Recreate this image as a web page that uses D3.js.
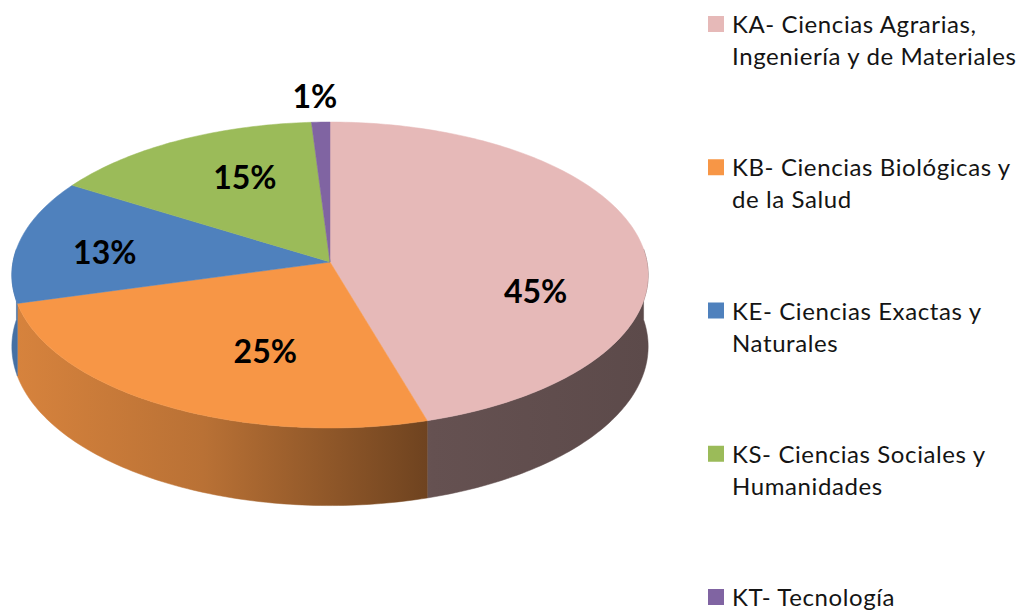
<!DOCTYPE html>
<meta charset="utf-8">
<script src="https://cdn.jsdelivr.net/npm/d3@7"></script>
<html>
<head>
<style>
  body { margin: 0; background: #fff; }
  svg { display: block; }
  .pct { font-family: Lato, "Open Sans", sans-serif; font-weight: bold; font-size: 32px; fill: #000; }
  .leg { font-family: Lato, "Open Sans", sans-serif; font-size: 24px; letter-spacing: 0.6px; fill: #141414; }
</style>
</head>
<body>
<div id="chart"></div>

<script>
// data
var codes   = ["KA", "KB", "KE", "KS", "KT"];
var values  = [45, 25, 13, 15, 1];
var labels  = ["45%", "25%", "13%", "15%", "1%"];
var legendLines = [
  ["KA- Ciencias Agrarias,", "Ingeniería y de Materiales"],
  ["KB-  Ciencias Biológicas y", "de la Salud"],
  ["KE- Ciencias Exactas y", "Naturales"],
  ["KS- Ciencias Sociales y", "Humanidades"],
  ["KT- Tecnología"]
];
var colors  = ["#e6b9b8", "#f79646", "#4f81bd", "#9bbb59", "#8064a2"];
// where excel put the % labels (angle in degrees clockwise from top, radius fraction)
var labelAngle  = [107, 199, 275, 334, 357.5];
var labelRadius = [0.667, 0.597, 0.717, 0.643, 1.2];

var width = 1029, height = 613;

// 3d look: tilted disc with a bit of perspective
var cx = 330, k = 317, a = 129.6, b = 262, c = -0.085, depth = 71;

function project(deg, r, dz) {
  var t = deg * Math.PI / 180;
  var h = r * Math.sin(t), v = -r * Math.cos(t);
  var w = 1 + c * v;
  return [cx + k * h / w, (a * v + b + dz) / w];
}

function arcPts(d0, d1, dz) {
  var n = Math.max(2, Math.ceil(Math.abs(d1 - d0)));
  return d3.range(n + 1).map(function(i) {
    return project(d0 + (d1 - d0) * i / n, 1, dz);
  });
}

var svg = d3.select("#chart").append("svg")
  .attr("width", width)
  .attr("height", height);

var defs = svg.append("defs");
colors.forEach(function(col, i) {
  var g = defs.append("linearGradient")
    .attr("id", "side" + i)
    .attr("gradientUnits", "userSpaceOnUse")
    .attr("x1", 13).attr("x2", 648).attr("y1", 0).attr("y2", 0);
  var base = d3.rgb(col);
  [[0, 0.87], [0.3, 0.75], [0.66, 0.44], [1, 0.4]].forEach(function(s) {
    g.append("stop")
      .attr("offset", s[0])
      .attr("stop-color", d3.rgb(base.r * s[1], base.g * s[1], base.b * s[1]));
  });
});

var pie = d3.pie().sort(null).value(function(d) { return d; });
var arcs = pie(values);
var toDeg = function(r) { return r * 180 / Math.PI; };

var line = d3.line();
// silhouette of the cylinder wall, ~95 and ~265 deg
var sil0 = toDeg(Math.acos(-c)), sil1 = 360 - sil0;

// outer walls (front half only)
var pie3d = svg.append("g");
arcs.forEach(function(s, i) {
  var d0 = Math.max(toDeg(s.startAngle), sil0);
  var d1 = Math.min(toDeg(s.endAngle), sil1);
  if (d1 <= d0) return;
  var pts = arcPts(d0, d1, 0).concat(arcPts(d1, d0, depth));
  pie3d.append("path")
    .attr("d", line(pts) + "Z")
    .attr("fill", "url(#side" + i + ")")
    .attr("stroke", "url(#side" + i + ")")
    .attr("stroke-width", 0.5);
});

// top faces
arcs.forEach(function(s, i) {
  var pts = [project(0, 0, 0)].concat(arcPts(toDeg(s.startAngle), toDeg(s.endAngle), 0));
  pie3d.append("path")
    .attr("d", line(pts) + "Z")
    .attr("fill", colors[i])
    .attr("stroke", colors[i])
    .attr("stroke-width", 0.5);
});

// percentage labels
svg.append("g").selectAll("text")
  .data(labels)
  .enter().append("text")
  .attr("class", "pct")
  .attr("text-anchor", "middle")
  .attr("x", function(d, i) { return project(labelAngle[i], labelRadius[i], 0)[0]; })
  .attr("y", function(d, i) { return project(labelAngle[i], labelRadius[i], 0)[1] + 11; })
  .text(function(d) { return d; });

// legend
var legY = d3.scalePoint().domain(codes).range([24, 597]);
var leg = svg.append("g").selectAll("g")
  .data(codes)
  .enter().append("g")
  .attr("transform", function(d) { return "translate(708," + legY(d) + ")"; });

leg.append("rect")
  .attr("x", 0).attr("y", -8)
  .attr("width", 16).attr("height", 16)
  .attr("fill", function(d, i) { return colors[i]; });

leg.append("text")
  .attr("class", "leg")
  .attr("x", 24)
  .attr("y", 9)
  .selectAll("tspan")
  .data(function(d, i) { return legendLines[i]; })
  .enter().append("tspan")
  .attr("x", 24)
  .attr("dy", function(d, j) { return j ? 32 : 0; })
  .text(function(d) { return d; });
</script>
</body>
</html>
